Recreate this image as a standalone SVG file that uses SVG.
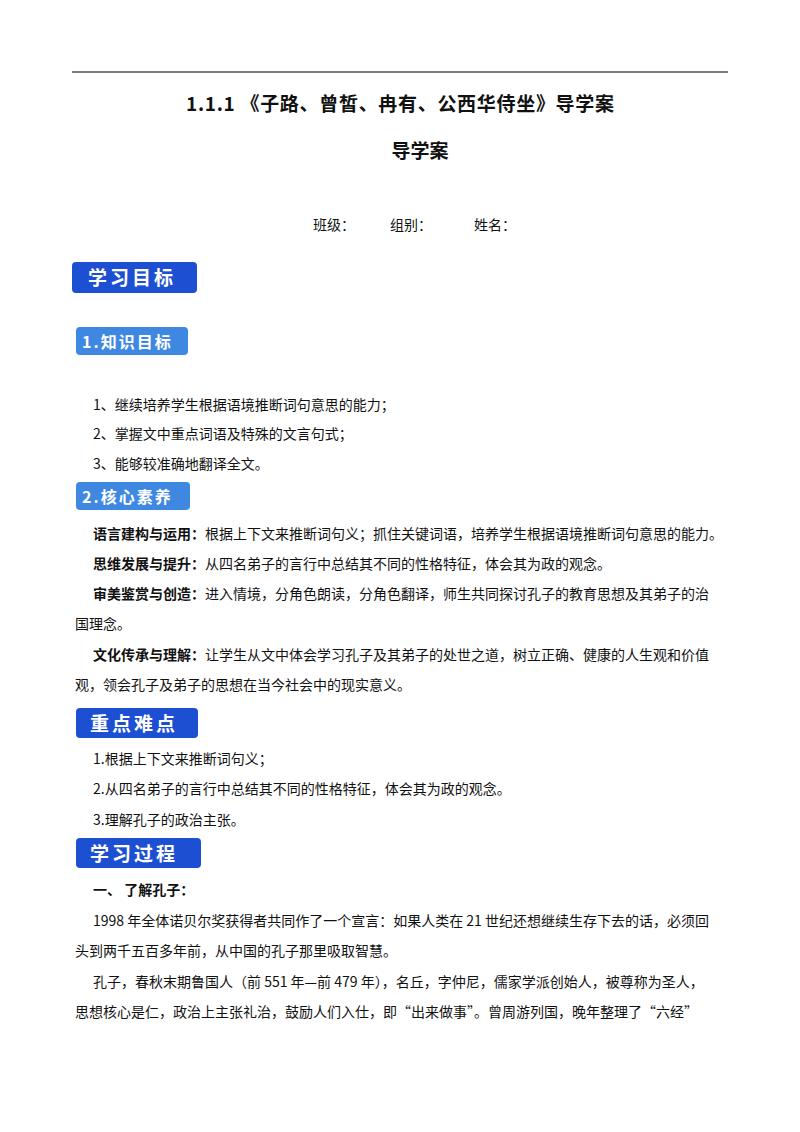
<svg xmlns="http://www.w3.org/2000/svg" width="800" height="1132" viewBox="0 0 800 1132">
<style>
text{font-family:"Noto Sans CJK SC","Liberation Serif",serif;font-size:14px;fill:#111}
.b{font-weight:bold}
.t{font-size:19px;font-weight:bold}
.bd{fill:#fff;font-weight:bold;font-size:19px;letter-spacing:3px}
.bl{fill:#fff;font-weight:bold;font-size:16px;letter-spacing:2px}
.dk{fill:#1d4fd3}
.lt{fill:#3f88e2}
</style>
<rect width="800" height="1132" fill="#fff"/>
<line x1="72" y1="72" x2="728" y2="72" stroke="#000" stroke-width="1.2"/>
<text class="t" x="400" y="111" text-anchor="middle" textLength="428">1.1.1 《子路、曾皙、冉有、公西华侍坐》导学案</text>
<text class="t" x="420" y="158" text-anchor="middle">导学案</text>
<text x="313" y="230">班级：</text><text x="390" y="230">组别：</text><text x="474" y="230">姓名：</text>
<g id="b1"><rect class="dk" x="72" y="262" width="125" height="31" rx="4"/><text class="bd" x="88" y="285">学习目标</text></g>
<g id="b2"><rect class="lt" x="76" y="327" width="112" height="28" rx="4"/><text class="bl" x="82" y="348">1.知识目标</text></g>
<text x="93" y="410">1、继续培养学生根据语境推断词句意思的能力；</text>
<text x="93" y="439">2、掌握文中重点词语及特殊的文言句式；</text>
<text x="93" y="469">3、能够较准确地翻译全文。</text>
<g id="b3"><rect class="lt" x="76" y="482" width="114" height="28" rx="4"/><text class="bl" x="82" y="503">2.核心素养</text></g>
<text x="93" y="539"><tspan class="b">语言建构与运用：</tspan>根据上下文来推断词句义；抓住关键词语，培养学生根据语境推断词句意思的能力。</text>
<text x="93" y="569"><tspan class="b">思维发展与提升：</tspan>从四名弟子的言行中总结其不同的性格特征，体会其为政的观念。</text>
<text x="93" y="599"><tspan class="b">审美鉴赏与创造：</tspan>进入情境，分角色朗读，分角色翻译，师生共同探讨孔子的教育思想及其弟子的治</text>
<text x="75" y="629">国理念。</text>
<text x="93" y="660"><tspan class="b">文化传承与理解：</tspan>让学生从文中体会学习孔子及其弟子的处世之道，树立正确、健康的人生观和价值</text>
<text x="75" y="690">观，领会孔子及弟子的思想在当今社会中的现实意义。</text>
<g id="b4"><rect class="dk" x="76" y="708" width="122" height="30" rx="4"/><text class="bd" x="90" y="731">重点难点</text></g>
<text x="93" y="764">1.根据上下文来推断词句义；</text>
<text x="93" y="794">2.从四名弟子的言行中总结其不同的性格特征，体会其为政的观念。</text>
<text x="93" y="825">3.理解孔子的政治主张。</text>
<g id="b5"><rect class="dk" x="76" y="838" width="125" height="30" rx="4"/><text class="bd" x="90" y="861">学习过程</text></g>
<text class="b" x="93" y="895">一、  了解孔子：</text>
<text x="93" y="926">1998 年全体诺贝尔奖获得者共同作了一个宣言：如果人类在 21 世纪还想继续生存下去的话，必须回</text>
<text x="75" y="956">头到两千五百多年前，从中国的孔子那里吸取智慧。</text>
<text x="93" y="987">孔子，春秋末期鲁国人（前 551 年—前 479 年），名丘，字仲尼，儒家学派创始人，被尊称为圣人，</text>
<text x="75" y="1017">思想核心是仁，政治上主张礼治，鼓励人们入仕，即“出来做事”。曾周游列国，晚年整理了“六经”</text>
</svg>
